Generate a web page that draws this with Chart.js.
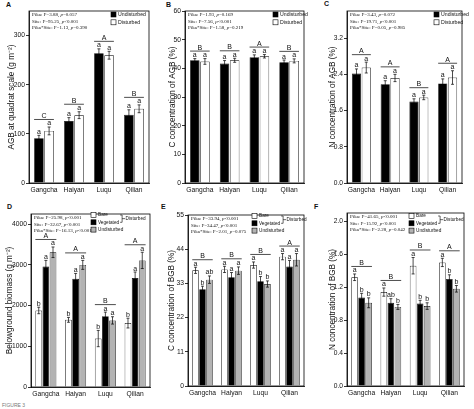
<!DOCTYPE html>
<html><head><meta charset="utf-8">
<script src="https://cdn.jsdelivr.net/npm/chart.js@4/dist/chart.umd.min.js"></script>
<style>
body{margin:0;width:474px;height:409px;background:#fff;position:relative;overflow:hidden;font-family:'Liberation Sans',Arial,sans-serif}
canvas{position:absolute}
.pl{position:absolute;font:bold 7px 'Liberation Sans',Arial,sans-serif;color:#111}
.fig{position:absolute;left:2px;top:402px;font:5px 'Liberation Sans',Arial,sans-serif;color:#777}
</style></head><body>
<div class="pl" style="left:6px;top:1px">A</div>
<div class="pl" style="left:166px;top:1px">B</div>
<div class="pl" style="left:324px;top:0px">C</div>
<div class="pl" style="left:7px;top:203px">D</div>
<div class="pl" style="left:161px;top:203px">E</div>
<div class="pl" style="left:314px;top:203px">F</div>
<div class="fig">FIGURE 3</div>
<canvas id="cA"></canvas><canvas id="cB"></canvas><canvas id="cC"></canvas>
<canvas id="cD"></canvas><canvas id="cE"></canvas><canvas id="cF"></canvas>
<script>
const categories = ['Gangcha', 'Haiyan', 'Luqu', 'Qilian'];

// Panel A: AGB at quadrat scale
const agbUndisturbed = [91, 126, 264, 139];
const agbDisturbed = [106, 138, 260, 151];
const agbUndisturbedErr = [6, 7, 9, 10];
const agbDisturbedErr = [8, 7, 8, 8];
const agbTicks = [0, 100, 200, 300];
const agbLetters = [['a','a','a','a'], ['a','a','a','a']];
const agbGroups = ['C', 'B', 'A', 'B'];
const agbStats = ['Pika: F=3.88, p=0.057', 'Site: F=95.25, p<0.001', 'Pika*Site: F=1.13, p=0.390'];

// Panel B: C concentration of AGB
const cAgbUndisturbed = [42.8, 41.7, 43.9, 42.1];
const cAgbDisturbed = [42.4, 42.8, 44.2, 42.6];
const cAgbUndisturbedErr = [0.6, 1.0, 0.8, 0.8];
const cAgbDisturbedErr = [1.0, 0.7, 0.6, 0.7];
const cAgbTicks = [0, 10, 20, 30, 40, 50, 60];
const cAgbLetters = [['a','a','a','a'], ['a','a','a','a']];
const cAgbGroups = ['B', 'B', 'A', 'B'];
const cAgbStats = ['Pika: F=1.93, p=0.169', 'Site: F=7.56, p<0.001', 'Pika*Site: F=1.58, p=0.219'];

// Panel C: N concentration of AGB
const nAgbUndisturbed = [2.42, 2.18, 1.80, 2.20];
const nAgbDisturbed = [2.55, 2.32, 1.89, 2.33];
const nAgbUndisturbedErr = [0.10, 0.08, 0.06, 0.10];
const nAgbDisturbedErr = [0.12, 0.08, 0.05, 0.15];
const nAgbTicks = [0, 0.8, 1.6, 2.4, 3.2];
const nAgbLetters = [['a','a','a','a'], ['a','a','a','a']];
const nAgbGroups = ['A', 'A', 'B', 'A'];
const nAgbStats = ['Pika: F=3.43, p=0.072', 'Site: F=19.71, p<0.001', 'Pika*Site: F=0.05, p=0.985'];

// Panel D: Belowground biomass
const bgbBare = [1880, 1650, 1190, 1570];
const bgbVegetated = [2960, 2660, 1740, 2675];
const bgbUndisturbed = [3310, 3000, 1636, 3110];
const bgbBareErr = [80, 60, 200, 120];
const bgbVegetatedErr = [150, 130, 100, 150];
const bgbUndisturbedErr = [130, 110, 90, 200];
const bgbTicks = [0, 1000, 2000, 3000, 4000];
const bgbLetters = [['b','b','b','b'], ['a','a','a','a'], ['a','a','a','a']];
const bgbGroups = ['A', 'A', 'B', 'A'];
const bgbStats = ['Pika: F=25.98, p<0.001', 'Site: F=32.67, p<0.001', 'Pika*Site: F=16.13, p<0.001'];

// Panel E: C concentration of BGB
const cBgbBare = [37.2, 37.5, 38.9, 41.6];
const cBgbVegetated = [31.1, 35.0, 33.7, 38.4];
const cBgbUndisturbed = [34.2, 37.1, 32.8, 40.6];
const cBgbBareErr = [1.0, 1.0, 1.0, 1.0];
const cBgbVegetatedErr = [1.0, 1.5, 1.5, 2.0];
const cBgbUndisturbedErr = [1.2, 1.2, 1.0, 2.0];
const cBgbTicks = [0, 11, 22, 33, 44, 55];
const cBgbLetters = [['a','a','a','a'], ['b','a','b','a'], ['ab','a','b','a']];
const cBgbGroups = ['B', 'B', 'B', 'A'];
const cBgbStats = ['Pika: F=33.94, p<0.001', 'Site: F=34.47, p<0.001', 'Pika*Site: F=2.01, p=0.075'];

// Panel F: N concentration of BGB
const nBgbBare = [1.32, 1.14, 1.46, 1.50];
const nBgbVegetated = [1.075, 1.01, 1.0, 1.30];
const nBgbUndisturbed = [1.01, 0.96, 0.97, 1.18];
const nBgbBareErr = [0.04, 0.05, 0.10, 0.05];
const nBgbVegetatedErr = [0.05, 0.05, 0.04, 0.05];
const nBgbUndisturbedErr = [0.06, 0.03, 0.04, 0.04];
const nBgbTicks = [0, 0.4, 0.8, 1.2, 1.6, 2.0];
const nBgbLetters = [['a','a','a','a'], ['b','ab','b','b'], ['b','b','b','b']];
const nBgbGroups = ['B', 'B', 'B', 'A'];
const nBgbStats = ['Pika: F=41.65, p<0.001', 'Site: F=15.92, p<0.001', 'Pika*Site: F=2.28, p=0.042'];

const SANS = "'Liberation Sans',Arial,sans-serif";
const SERIF = "'Liberation Serif','DejaVu Serif',serif";

const annot = {
  id: 'annot',
  afterDatasetsDraw(chart, args, o) {
    const ctx = chart.ctx, ys = chart.scales.y, a = chart.chartArea;
    ctx.save();
    ctx.strokeStyle = '#000'; ctx.lineWidth = 0.8;
    ctx.strokeRect(a.left, a.top, a.right - a.left, a.bottom - a.top);
    const n = chart.data.labels.length;
    const minTop = new Array(n).fill(Infinity), lx = new Array(n).fill(Infinity), rx = new Array(n).fill(-Infinity);
    ctx.font = '7px ' + SANS; ctx.fillStyle = '#111'; ctx.textAlign = 'center'; ctx.textBaseline = 'alphabetic';
    chart.data.datasets.forEach((ds, i) => {
      const meta = chart.getDatasetMeta(i);
      meta.data.forEach((bar, j) => {
        const v = ds.data[j], e = ds.errors[j];
        const yT = ys.getPixelForValue(v + e), yB = ys.getPixelForValue(v - e);
        ctx.beginPath();
        ctx.strokeStyle = '#000'; ctx.lineWidth = 0.7;
        ctx.moveTo(bar.x, yT); ctx.lineTo(bar.x, yB);
        ctx.moveTo(bar.x - 1.5, yT); ctx.lineTo(bar.x + 1.5, yT);
        ctx.moveTo(bar.x - 1.5, yB); ctx.lineTo(bar.x + 1.5, yB);
        ctx.stroke();
        const L = o.letters[i][j];
        ctx.fillText(L, bar.x, yT - 1.5);
        const top = yT - 1.5 - (/[bdfhkl]/.test(L) ? 5.5 : 4);
        minTop[j] = Math.min(minTop[j], top);
        lx[j] = Math.min(lx[j], bar.x - bar.width / 2);
        rx[j] = Math.max(rx[j], bar.x + bar.width / 2);
      });
    });
    for (let j = 0; j < n; j++) {
      const y = minTop[j] - 2;
      ctx.beginPath(); ctx.lineWidth = 0.7;
      ctx.moveTo(lx[j], y); ctx.lineTo(rx[j], y); ctx.stroke();
      ctx.fillText(o.groups[j], (lx[j] + rx[j]) / 2, y - 1.5);
    }
    // stats text
    ctx.textAlign = 'left'; ctx.textBaseline = 'middle';
    o.stats.forEach((s, k) => {
      const y = a.top + 4 + k * 6.2;
      let x = a.left + 3;
      const idx = s.lastIndexOf(' p');
      const parts = [[s.slice(0, idx + 1), false], ['p', true], [s.slice(idx + 2), false]];
      parts.forEach(([t, it]) => {
        ctx.font = (it ? 'italic ' : '') + '5px ' + SERIF;
        ctx.fillText(t, x, y);
        x += ctx.measureText(t).width;
      });
    });
    // legend (page coords converted to canvas coords)
    const lg = o.legend, ox = o.origin.x, oy = o.origin.y;
    const lgx = lg.x - ox, lgy = lg.y - oy;
    ctx.font = lg.font + 'px ' + SANS; ctx.textBaseline = 'middle';
    const ends = [];
    chart.data.datasets.forEach((ds, i) => {
      const y = lgy + i * lg.dy;
      ctx.fillStyle = ds.backgroundColor;
      ctx.fillRect(lgx, y - 2.5, 5, 5);
      ctx.strokeStyle = '#000'; ctx.lineWidth = 0.6;
      ctx.strokeRect(lgx, y - 2.5, 5, 5);
      ctx.fillStyle = '#111';
      ctx.fillText(ds.label, lgx + 7, y);
      ends.push(lgx + 7 + ctx.measureText(ds.label).width);
    });
    if (lg.bracket) {
      const bx = Math.max(ends[0], ends[1]) + 3, y1 = lgy, y2 = lgy + lg.dy;
      ctx.beginPath(); ctx.lineWidth = 0.6; ctx.strokeStyle = '#000';
      ctx.moveTo(bx - 2, y1); ctx.lineTo(bx, y1); ctx.lineTo(bx, y2); ctx.lineTo(ends[1] + 1, y2);
      ctx.moveTo(bx, (y1 + y2) / 2); ctx.lineTo(bx + 3, (y1 + y2) / 2);
      ctx.stroke();
      ctx.fillText('Disturbed', bx + 3.5, (y1 + y2) / 2);
    }
    ctx.restore();
  }
};

function panel(id, rect, area, cfg) {
  const cv = document.getElementById(id);
  cv.style.left = rect.x + 'px'; cv.style.top = rect.y + 'px';
  cv.width = rect.w; cv.height = rect.h;
  const fills = cfg.series.length === 2 ? ['#000', '#fff'] : ['#fff', '#000', '#b3b3b3'];
  new Chart(cv, {
    type: 'bar',
    data: {
      labels: categories,
      datasets: cfg.series.map((s, i) => ({
        label: s.label, data: s.data, errors: s.err,
        backgroundColor: fills[i], borderColor: '#000', borderWidth: 0.7,
        categoryPercentage: cfg.series.length === 2 ? 0.68 : 0.72, barPercentage: 0.94
      }))
    },
    options: {
      responsive: false, animation: false, devicePixelRatio: 1,
      layout: { padding: { left: 0, top: area.t - rect.y, right: rect.x + rect.w - area.r, bottom: 0 } },
      plugins: {
        legend: { display: false }, tooltip: { enabled: false },
        annot: { letters: cfg.letters, groups: cfg.groups, stats: cfg.stats, legend: cfg.legend, origin: { x: rect.x, y: rect.y } }
      },
      scales: {
        x: {
          grid: { display: false, drawTicks: false }, border: { color: '#000', width: 0.8 },
          ticks: { font: { size: 6.7, family: SANS }, color: '#111', padding: 3, maxRotation: 0, autoSkip: false },
          afterFit(s) { s.height = rect.y + rect.h - area.b; }
        },
        y: {
          min: 0, max: cfg.max,
          afterBuildTicks(s) { s.ticks = cfg.ticks.map(v => ({ value: v })); },
          ticks: { font: { size: 6.7, family: SANS }, color: '#111', padding: 1,
                   callback: v => cfg.dec ? Number(v).toFixed(cfg.dec) : String(v) },
          grid: { display: true, drawOnChartArea: false, tickLength: 3, color: '#000', lineWidth: 0.8 },
          border: { color: '#000', width: 0.8 },
          title: { display: true, text: cfg.title, font: { size: 8.2, family: SANS }, color: '#111',
                   padding: { top: cfg.titleX - rect.x - 5, bottom: 0 } },
          afterFit(s) { s.width = area.l - rect.x; }
        }
      }
    },
    plugins: [annot]
  });
}

panel('cA', { x: 0, y: 0, w: 155, h: 195 }, { l: 29, t: 11, r: 149, b: 183 }, {
  max: 350, ticks: agbTicks, title: 'AGB at quadrat scale (g m\u207B\u00B2)', titleX: 12,
  series: [{ label: 'Undisturbed', data: agbUndisturbed, err: agbUndisturbedErr },
           { label: 'Disturbed', data: agbDisturbed, err: agbDisturbedErr }],
  letters: agbLetters, groups: agbGroups, stats: agbStats,
  legend: { x: 111, y: 14.5, dy: 7.8, font: 5.2 }
});
panel('cB', { x: 155, y: 0, w: 155, h: 195 }, { l: 185, t: 11, r: 304, b: 183 }, {
  max: 60, ticks: cAgbTicks, title: 'C concentration of AGB (%)', titleX: 173,
  series: [{ label: 'Undisturbed', data: cAgbUndisturbed, err: cAgbUndisturbedErr },
           { label: 'Disturbed', data: cAgbDisturbed, err: cAgbDisturbedErr }],
  letters: cAgbLetters, groups: cAgbGroups, stats: cAgbStats,
  legend: { x: 273, y: 14.5, dy: 7.8, font: 5.2 }
});
panel('cC', { x: 310, y: 0, w: 164, h: 195 }, { l: 347, t: 11, r: 462, b: 183 }, {
  max: 3.8, ticks: nAgbTicks, dec: 1, title: 'N concentration of AGB (%)', titleX: 333,
  series: [{ label: 'Undisturbed', data: nAgbUndisturbed, err: nAgbUndisturbedErr },
           { label: 'Disturbed', data: nAgbDisturbed, err: nAgbDisturbedErr }],
  letters: nAgbLetters, groups: nAgbGroups, stats: nAgbStats,
  legend: { x: 434, y: 14.5, dy: 7.8, font: 5.2 }
});
panel('cD', { x: 0, y: 195, w: 155, h: 214 }, { l: 31, t: 214, r: 150, b: 387 }, {
  max: 4250, ticks: bgbTicks, title: 'Belowground biomass (g m\u207B\u00B2)', titleX: 10,
  series: [{ label: 'Bare', data: bgbBare, err: bgbBareErr },
           { label: 'Vegetated', data: bgbVegetated, err: bgbVegetatedErr },
           { label: 'Undisturbed', data: bgbUndisturbed, err: bgbUndisturbedErr }],
  letters: bgbLetters, groups: bgbGroups, stats: bgbStats,
  legend: { x: 91, y: 215, dy: 7.3, bracket: true, font: 4.7 }
});
panel('cE', { x: 155, y: 195, w: 155, h: 214 }, { l: 188, t: 215, r: 304, b: 386 }, {
  max: 55, ticks: cBgbTicks, title: 'C concentration of BGB (%)', titleX: 172,
  series: [{ label: 'Bare', data: cBgbBare, err: cBgbBareErr },
           { label: 'Vegetated', data: cBgbVegetated, err: cBgbVegetatedErr },
           { label: 'Undisturbed', data: cBgbUndisturbed, err: cBgbUndisturbedErr }],
  letters: cBgbLetters, groups: cBgbGroups, stats: cBgbStats,
  legend: { x: 252, y: 216, dy: 7.3, bracket: true, font: 4.7 }
});
panel('cF', { x: 310, y: 195, w: 164, h: 214 }, { l: 347, t: 213, r: 464, b: 386 }, {
  max: 2.1, ticks: nBgbTicks, dec: 1, title: 'N concentration of BGB (%)', titleX: 333,
  series: [{ label: 'Bare', data: nBgbBare, err: nBgbBareErr },
           { label: 'Vegetated', data: nBgbVegetated, err: nBgbVegetatedErr },
           { label: 'Undisturbed', data: nBgbUndisturbed, err: nBgbUndisturbedErr }],
  letters: nBgbLetters, groups: nBgbGroups, stats: nBgbStats,
  legend: { x: 409, y: 216, dy: 7.3, bracket: true, font: 4.7 }
});
</script>
</body></html>
